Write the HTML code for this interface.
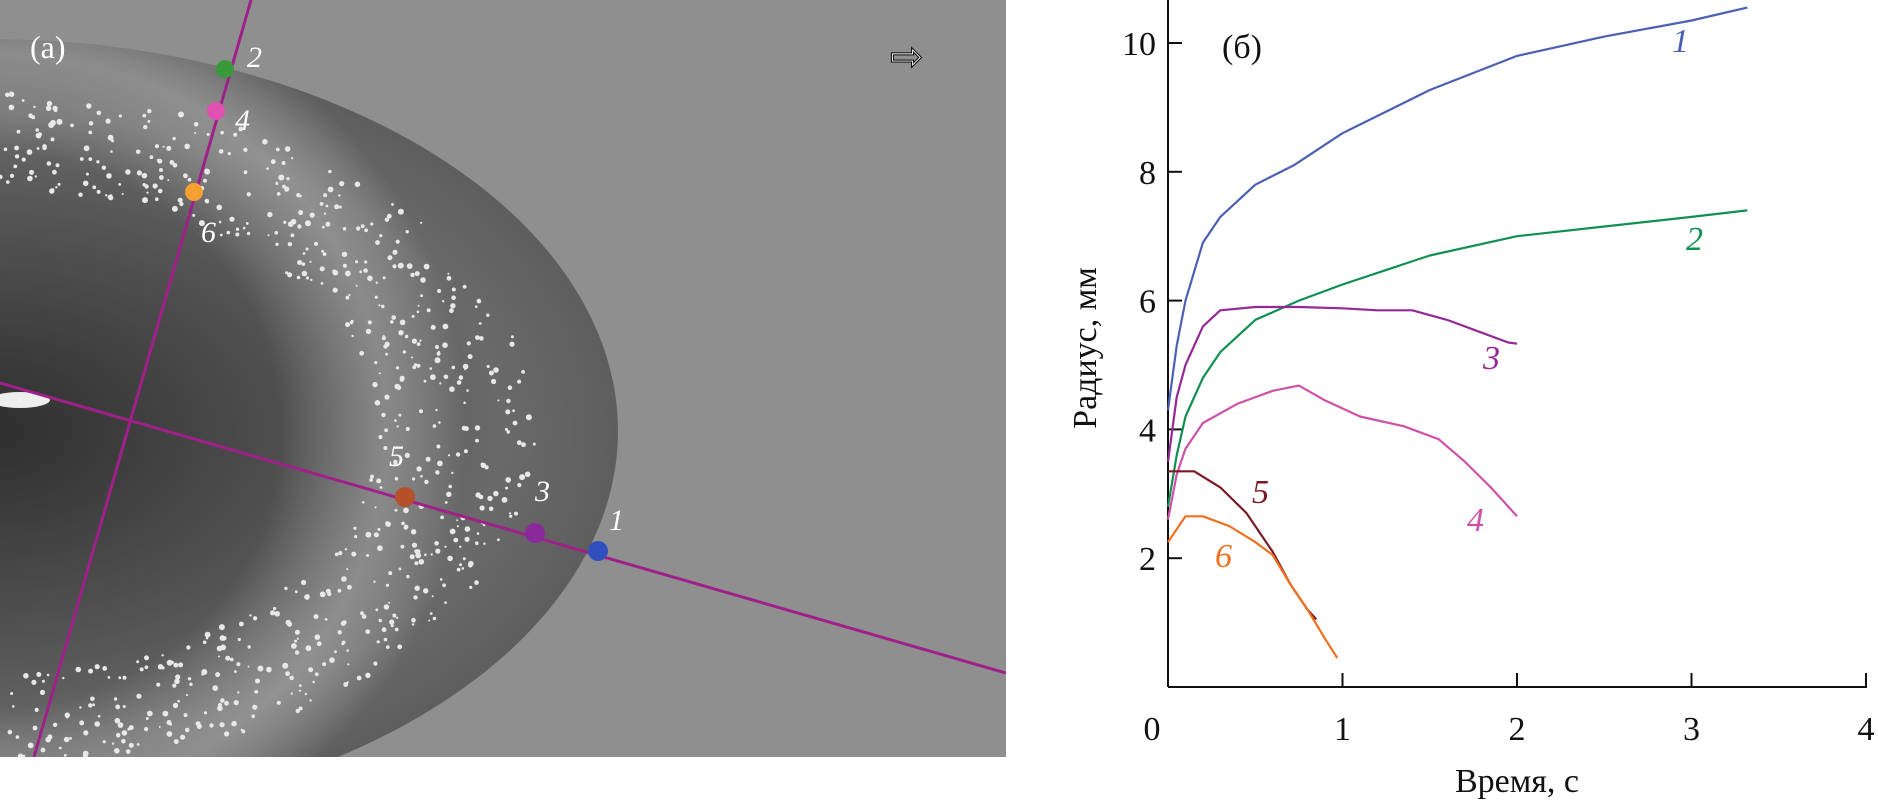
<!DOCTYPE html>
<html><head><meta charset="utf-8"><style>
html,body{margin:0;padding:0;background:#fff;}
svg{display:block;}
text{font-family:"Liberation Serif",serif;}
</style></head><body>
<svg id="fig" width="1878" height="802" viewBox="0 0 1878 802" xmlns="http://www.w3.org/2000/svg">
<defs>
<clipPath id="photoClip"><rect x="0" y="0" width="1006" height="757"/></clipPath>
<radialGradient id="drop" cx="-12" cy="431" r="640" gradientUnits="userSpaceOnUse" gradientTransform="translate(-12 431) scale(1 0.62) translate(12 -431)">
<stop offset="0" stop-color="#2e2e2e"/><stop offset="0.2" stop-color="#3c3c3c"/><stop offset="0.55" stop-color="#555"/><stop offset="0.8" stop-color="#6a6a6a"/><stop offset="1" stop-color="#5d5d5d"/>
</radialGradient>
<radialGradient id="ring" cx="-12" cy="431" r="560" gradientUnits="userSpaceOnUse" gradientTransform="translate(-12 431) scale(0.95 0.9) translate(12 -431)">
<stop offset="0" stop-color="#fff" stop-opacity="0"/><stop offset="0.55" stop-color="#fff" stop-opacity="0"/><stop offset="0.75" stop-color="#ddd" stop-opacity="0.35"/><stop offset="0.9" stop-color="#fff" stop-opacity="0"/>
</radialGradient>
</defs>
<g clip-path="url(#photoClip)">
<rect x="0" y="0" width="1006" height="757" fill="#8f8f8f"/>
<ellipse cx="-12" cy="431" rx="630" ry="392" fill="url(#drop)"/>
<ellipse cx="-12" cy="431" rx="630" ry="392" fill="url(#ring)"/>
<g id="speckles"></g>
<ellipse cx="20" cy="400" rx="30" ry="8" fill="#eee"/>
<line x1="251" y1="0" x2="34" y2="757" stroke="#a0208a" stroke-width="3"/>
<line x1="0" y1="383" x2="1006" y2="673" stroke="#a0208a" stroke-width="3"/>
<circle cx="225" cy="69" r="9" fill="#3a9a3a"/>
<circle cx="216" cy="111" r="9" fill="#e050b0"/>
<circle cx="194" cy="192" r="9" fill="#f5a030"/>
<circle cx="405" cy="497" r="10" fill="#b5502a"/>
<circle cx="535" cy="533" r="10" fill="#8a2a9a"/>
<circle cx="598" cy="551" r="10" fill="#3050c0"/>
<g fill="#fff" font-style="italic" font-size="30">
<text x="247" y="67">2</text>
<text x="235" y="130">4</text>
<text x="201" y="242">6</text>
<text x="389" y="466">5</text>
<text x="535" y="501">3</text>
<text x="609" y="530">1</text>
</g>
<text x="30" y="58" font-size="32" fill="#fff">(a)</text>
<text x="890" y="70" font-size="40" fill="#fff" stroke="#000" stroke-width="1">⇨</text>
</g>
<g id="chart"></g>
</svg>
<script>
const timeSeries1=[0,0.05,0.1,0.2,0.3,0.5,0.72,1,1.5,2,2.5,3,3.32];
const radius1=[4.3,5.3,6.0,6.9,7.3,7.8,8.1,8.6,9.27,9.8,10.1,10.35,10.55];
const timeSeries2=[0,0.05,0.1,0.2,0.3,0.5,0.75,1,1.5,2,2.5,3,3.32];
const radius2=[2.8,3.6,4.2,4.8,5.2,5.7,6.0,6.25,6.7,7.0,7.15,7.3,7.4];
const timeSeries3=[0,0.05,0.1,0.2,0.3,0.5,0.75,1,1.2,1.4,1.6,1.8,1.95,2.0];
const radius3=[3.5,4.5,5.0,5.6,5.85,5.9,5.9,5.88,5.85,5.85,5.7,5.5,5.35,5.33];
const timeSeries4=[0,0.05,0.1,0.2,0.4,0.6,0.75,0.9,1.1,1.35,1.55,1.7,1.85,2.0];
const radius4=[2.6,3.3,3.7,4.1,4.4,4.6,4.68,4.45,4.2,4.05,3.85,3.5,3.1,2.65];
const timeSeries5=[0,0.15,0.3,0.45,0.6,0.7,0.8,0.85];
const radius5=[3.35,3.35,3.1,2.7,2.1,1.6,1.2,1.05];
const timeSeries6=[0,0.05,0.1,0.2,0.35,0.5,0.6,0.7,0.8,0.9,0.97];
const radius6=[2.25,2.45,2.65,2.65,2.5,2.25,2.05,1.6,1.2,0.75,0.45];
const xTicks=[0,1,2,3,4];
const yTicks=[2,4,6,8,10];
const seriesColors=["#4a5fb5","#109050","#952895","#d050a8","#7a1a25","#f07020"];
const seriesLabels=["1","2","3","4","5","6"];
const NS="http://www.w3.org/2000/svg";
const X0=1168,XU=174.5,Y0=687,YU=64.4;
function sx(t){return X0+t*XU;}
function sy(r){return Y0-r*YU;}
const g=document.getElementById('chart');
function el(tag,attrs,txt){const e=document.createElementNS(NS,tag);for(const k in attrs)e.setAttribute(k,attrs[k]);if(txt!==undefined)e.textContent=txt;g.appendChild(e);return e;}
let ax=el('line',{x1:X0,y1:0,x2:X0,y2:Y0,stroke:'#111','stroke-width':2});


let bx=el('line',{x1:X0,y1:Y0,x2:sx(4)+1,y2:Y0,stroke:'#111','stroke-width':2});


xTicks.forEach(v=>{
 const tk=el('line',{x1:sx(v),y1:Y0,x2:sx(v),y2:Y0-14,stroke:'#111','stroke-width':2});
 
 
 const tl=el('text',{x:v===0?sx(v)-16:sx(v),y:740,'font-size':34,'text-anchor':'middle',fill:'#111'},String(v));
 
 
});
yTicks.forEach(v=>{
 const tk=el('line',{x1:X0,y1:sy(v),x2:X0+14,y2:sy(v),stroke:'#111','stroke-width':2});
 
 
 const tl=el('text',{x:X0-12,y:sy(v)+12,'font-size':34,'text-anchor':'end',fill:'#111'},String(v));
 
 
});
const xt=el('text',{x:1517,y:792,'font-size':34,'text-anchor':'middle',fill:'#111'},'Время, с');


const yt=el('text',{x:0,y:0,'font-size':34,'text-anchor':'middle',fill:'#111',transform:'translate(1096 348) rotate(-90)'},'Радиус, мм');


const pb=el('text',{x:1222,y:58,'font-size':34,fill:'#111'},'(б)');


const T=[timeSeries1,timeSeries2,timeSeries3,timeSeries4,timeSeries5,timeSeries6];
const R=[radius1,radius2,radius3,radius4,radius5,radius6];
T.forEach((ts,i)=>{
 const d=ts.map((t,j)=>(j?'L':'M')+sx(t).toFixed(1)+','+sy(R[i][j]).toFixed(1)).join(' ');
 const p=el('path',{d:d,fill:'none',stroke:seriesColors[i],'stroke-width':2.2,'stroke-linejoin':'round'});
 
 
});
const labelPos=[[1672,52],[1686,250],[1483,369],[1467,531],[1252,503],[1215,567]];
labelPos.forEach((pp,i)=>{
 const t=el('text',{x:pp[0],y:pp[1],'font-size':34,'font-style':'italic',fill:seriesColors[i]},seriesLabels[i]);
 
 
});
const sp=document.getElementById('speckles');
let seed=7;function rnd(){seed=(seed*16807)%2147483647;return seed/2147483647;}
for(let k=0;k<700;k++){
 const a=-Math.PI/2+rnd()*Math.PI, rr=0.62+rnd()*0.25;
 const cx=-12+Math.cos(a)*630*rr, cy=431+Math.sin(a)*392*rr;
 if(cx<0||cy<0||cy>757)continue;
 const c=document.createElementNS(NS,'circle');
 c.setAttribute('cx',cx.toFixed(1));c.setAttribute('cy',cy.toFixed(1));c.setAttribute('r',(1+rnd()*2).toFixed(1));c.setAttribute('fill','#e8e8e8');
 
 
 sp.appendChild(c);
}
</script>
</body></html>
